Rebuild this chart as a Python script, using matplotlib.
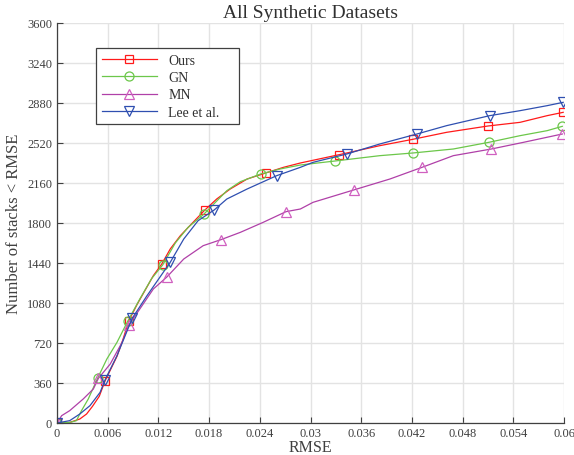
import matplotlib
matplotlib.use("Agg")
import matplotlib.pyplot as plt
import numpy as np

plt.rcParams['font.family'] = ['Liberation Serif', 'DejaVu Serif']

# ---- data ----
ours_x = [0, 0.0008, 0.0015, 0.0027, 0.0035, 0.0042, 0.0050, 0.0057, 0.0071, 0.0078, 0.0085, 0.0095,
          0.0114, 0.0124, 0.0134, 0.0146, 0.0161, 0.0175, 0.0189, 0.0205, 0.0225, 0.0247, 0.0268,
          0.0288, 0.0334, 0.0382, 0.0421, 0.0461, 0.0510, 0.0548, 0.0580, 0.0599]
ours_y = [0, 2, 5, 36, 81, 150, 240, 381, 600, 750, 921, 1070,
          1326, 1431, 1566, 1686, 1806, 1917, 2016, 2106, 2196, 2250, 2301,
          2340, 2415, 2496, 2553, 2616, 2673, 2706, 2766, 2796]
ours_m = [0, 7, 10, 13, 17, 21, 24, 26, 28, 31]

gn_x = [0, 0.0015, 0.0023, 0.0029, 0.0037, 0.0048, 0.0059, 0.0071, 0.0084, 0.0098, 0.0112, 0.0125,
        0.0140, 0.0155, 0.0174, 0.0201, 0.0217, 0.0241, 0.0264, 0.0288, 0.0329, 0.0382, 0.0421,
        0.0469, 0.0511, 0.0548, 0.0580, 0.0598]
gn_y = [0, 5, 21, 111, 216, 402, 576, 726, 921, 1116, 1300, 1422,
        1620, 1760, 1881, 2091, 2172, 2241, 2286, 2322, 2358, 2406, 2430,
        2466, 2526, 2586, 2631, 2670]
gn_m = [0, 5, 8, 11, 14, 17, 20, 22, 24, 27]

mn_x = [0, 0.00055, 0.0015, 0.0031, 0.0043, 0.0049, 0.0063, 0.0077, 0.0085, 0.0098, 0.0114, 0.0130,
        0.0150, 0.0173, 0.0194, 0.0217, 0.0244, 0.0271, 0.0288, 0.0303, 0.0351, 0.0394, 0.0432,
        0.0469, 0.0514, 0.0552, 0.0598]
mn_y = [0, 66, 111, 216, 306, 402, 531, 726, 882, 1026, 1206, 1314,
        1476, 1596, 1650, 1716, 1806, 1902, 1926, 1986, 2097, 2196, 2301,
        2406, 2466, 2526, 2601]
mn_m = [0, 5, 8, 11, 14, 17, 20, 22, 24, 26]

lee_x = [0, 0.0015, 0.0027, 0.0039, 0.0051, 0.0057, 0.0071, 0.0089, 0.0106, 0.0134, 0.0150, 0.0167,
         0.0186, 0.0201, 0.0225, 0.0260, 0.0288, 0.0303, 0.0343, 0.0382, 0.0426, 0.0461, 0.0512,
         0.0548, 0.0580, 0.0599]
lee_y = [0, 21, 81, 156, 276, 390, 606, 942, 1140, 1446, 1656, 1821,
         1917, 2016, 2106, 2226, 2301, 2346, 2421, 2511, 2601, 2676, 2766,
         2811, 2856, 2886]
lee_m = [0, 5, 7, 9, 12, 15, 18, 20, 22, 25]

labels = ['Ours', 'GN', 'MN', 'Lee et al.']
xticks = [0, 0.006, 0.012, 0.018, 0.024, 0.03, 0.036, 0.042, 0.048, 0.054, 0.06]
xtick_labels = ['0', '0.006', '0.012', '0.018', '0.024', '0.03', '0.036', '0.042', '0.048', '0.054', '0.06']
yticks = [0, 360, 720, 1080, 1440, 1800, 2160, 2520, 2880, 3240, 3600]

# ---- plot ----
fig = plt.figure(figsize=(5.74, 4.56), dpi=100)
ax = fig.add_axes([57/574, 1-424/456, 507/574, 400/456])

ax.plot(ours_x, ours_y, color='#ff1a1a', lw=0.9, marker='s', ms=6, mfc='none', mec='#ff1a1a',
        mew=0.9, markevery=ours_m, label=labels[0])
ax.plot(gn_x, gn_y, color='#6cc74a', lw=0.9, marker='o', ms=6.5, mfc='none', mec='#6cc74a',
        mew=0.9, markevery=gn_m, label=labels[1])
ax.plot(mn_x, mn_y, color='#b040a8', lw=0.9, marker='^', ms=7, mfc='none', mec='#d060c0',
        mew=0.9, markevery=mn_m, label=labels[2])
ax.plot(lee_x, lee_y, color='#2f4fb0', lw=0.9, marker='v', ms=7, mfc='none', mec='#2f4fb0',
        mew=0.9, markevery=lee_m, label=labels[3])

ax.set_xlim(0, 0.06)
ax.set_ylim(0, 3600)
ax.set_xticks(xticks)
ax.set_xticklabels(xtick_labels)
ax.set_yticks(yticks)
ax.grid(True, color='#e3e3e3', lw=1.0)
ax.set_axisbelow(True)
for s in ['top', 'right']:
    ax.spines[s].set_visible(False)
for s in ['left', 'bottom']:
    ax.spines[s].set_color('#404040')
    ax.spines[s].set_linewidth(0.9)
ax.tick_params(direction='in', length=4, colors='#404040', labelsize=9, width=0.8)
ax.tick_params(axis='x', pad=3)

ax.set_title('All Synthetic Datasets', fontsize=14, color='#303030', pad=4)
ax.set_xlabel('RMSE', fontsize=11.5, color='#404040', labelpad=0)
ax.set_ylabel('Number of stacks < RMSE', fontsize=12, color='#404040', labelpad=4)

leg = ax.legend(loc='upper left', bbox_to_anchor=(0.077, 0.7575, 0.282, 0.18), mode='expand',
                borderaxespad=0, fontsize=10,
                frameon=True, fancybox=False, edgecolor='#404040', borderpad=0.4, handlelength=4,
                labelspacing=0.32, framealpha=1)
leg.get_frame().set_linewidth(0.9)
for t in leg.get_texts():
    t.set_color('#303030')

fig.savefig('out.png', dpi=100)
